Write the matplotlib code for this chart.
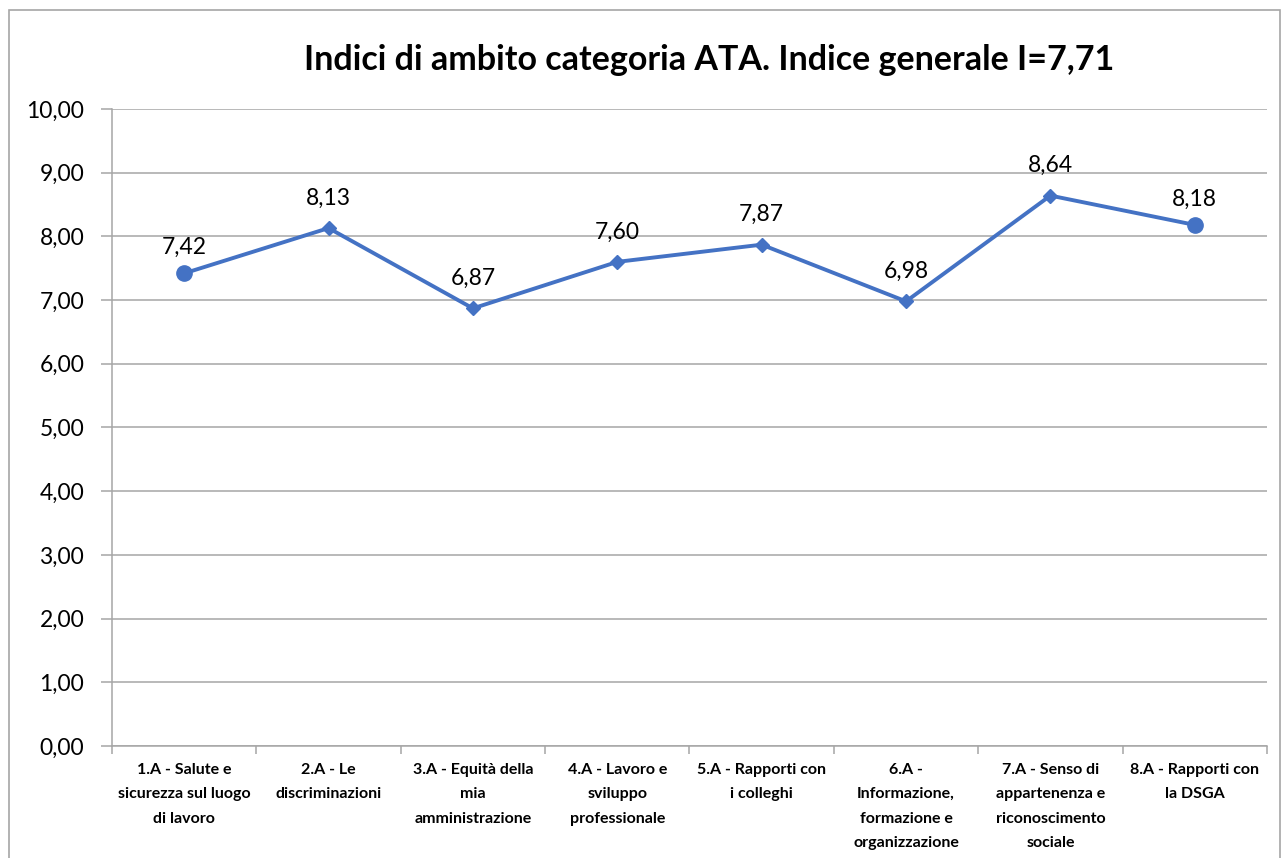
import matplotlib.pyplot as plt
from matplotlib.patches import Rectangle
from matplotlib.ticker import FixedLocator

plt.rcParams['font.family'] = ['Lato', 'DejaVu Sans']

# dati
categorie = ['1.A - Salute e\nsicurezza sul luogo\ndi lavoro',
             '2.A - Le\ndiscriminazioni',
             '3.A - Equità della\nmia\namministrazione',
             '4.A - Lavoro e\nsviluppo\nprofessionale',
             '5.A - Rapporti con\ni colleghi',
             '6.A -\nInformazione,\nformazione e\norganizzazione',
             '7.A - Senso di\nappartenenza e\nriconoscimento\nsociale',
             '8.A - Rapporti con\nla DSGA']
valori = [7.42, 8.13, 6.87, 7.60, 7.87, 6.98, 8.64, 8.18]
y_ticks = [0, 1, 2, 3, 4, 5, 6, 7, 8, 9, 10]
titolo = 'Indici di ambito categoria ATA. Indice generale I=7,71'

blu = '#4472C4'
grigio = '#A6A6A6'

fig = plt.figure(figsize=(12.83, 8.58), dpi=100)
ax = fig.add_axes([0.0873, 0.1305, 0.9002, 0.7425])

x = list(range(len(valori)))
ax.plot(x, valori, color=blu, linewidth=2.8, zorder=3)
# marcatori: cerchi agli estremi, rombi in mezzo
ax.plot([x[0], x[-1]], [valori[0], valori[-1]], 'o', color=blu, markersize=11, zorder=4)
ax.plot(x[1:-1], valori[1:-1], 'D', color=blu, markersize=7.5, zorder=4)

for i, (xi, v) in enumerate(zip(x, valori)):
    off = 11 if i in (0, len(valori) - 1) else 14
    ax.annotate(('%.2f' % v).replace('.', ','), (xi, v), xytext=(0, off),
                textcoords='offset points', ha='center', va='bottom',
                fontsize=16.5, color='black')

ax.set_xlim(-0.5, len(valori) - 0.5)
ax.set_ylim(0, 10)
ax.yaxis.set_major_locator(FixedLocator(y_ticks))
ax.set_yticklabels([('%.2f' % t).replace('.', ',') for t in y_ticks], fontsize=16.5)
ax.yaxis.grid(True, color=grigio, linewidth=1.1)
ax.set_axisbelow(True)

# tick tra le categorie, etichette al centro
ax.set_xticks([i - 0.5 for i in range(len(valori) + 1)])
ax.set_xticklabels([])
ax.set_xticks(x, minor=True)
ax.set_xticklabels(categorie, minor=True, fontsize=11.5, fontweight='bold',
                   linespacing=1.95, va='top')
ax.tick_params(axis='x', which='minor', length=0, pad=12)
ax.tick_params(axis='x', which='major', length=6, color=grigio, width=1.1)
ax.tick_params(axis='y', length=8, color=grigio, width=1.1, pad=12)

for s in ['top', 'right']:
    ax.spines[s].set_visible(False)
for s in ['left', 'bottom']:
    ax.spines[s].set_color(grigio)
    ax.spines[s].set_linewidth(1.1)

fig.text(0.553, 0.93, titolo, ha='center', va='center', fontsize=24.5, fontweight='bold')

# cornice del grafico
fig.patches.append(Rectangle((0.007, -0.05), 0.9907, 1.038, transform=fig.transFigure,
                             fill=False, edgecolor=grigio, linewidth=1.2))

fig.savefig('out.png', dpi=100)
